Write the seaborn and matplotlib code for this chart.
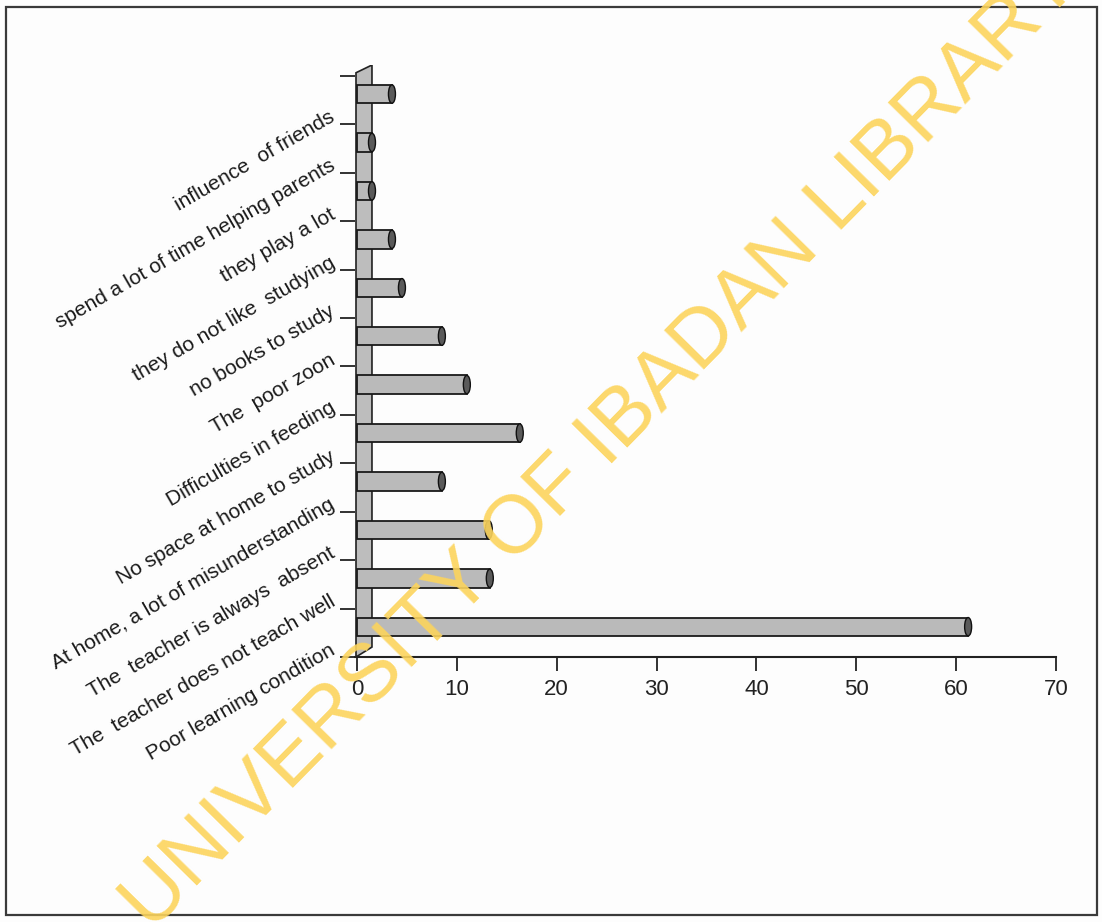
import numpy as np
import matplotlib
matplotlib.use("Agg")
import matplotlib.pyplot as plt
import seaborn as sns
from matplotlib import font_manager
from matplotlib.patches import Ellipse, Polygon, Rectangle

# reasons, top to bottom as in the chart
reasons = [
    "influence  of friends",
    "spend a lot of time helping parents",
    "they play a lot",
    "they do not like  studying",
    "no books to study",
    "The  poor zoon",
    "Difficulties in feeding",
    "No space at home to study",
    "At home, a lot of misunderstanding",
    "The  teacher is always  absent",
    "The  teacher does not teach well",
    "Poor learning condition",
]
percent = [3.5, 1.5, 1.5, 3.5, 4.5, 8.5, 11.0, 16.3, 8.5, 13.2, 13.3, 61.2]
xticks = [0, 10, 20, 30, 40, 50, 60, 70]

sns.set_style("white")
installed = {f.name for f in font_manager.fontManager.ttflist}
narrow = "Liberation Sans Narrow" if "Liberation Sans Narrow" in installed else "Liberation Sans"
plt.rcParams["font.family"] = ["Liberation Sans", "DejaVu Sans"]

W, H = 1102, 922
fig = plt.figure(figsize=(W / 100, H / 100), dpi=100)
fig.patch.set_facecolor("#fdfdfd")
ax = fig.add_axes([355 / W, 1 - 657 / H, 701 / W, 592 / H])
ax.set_facecolor("none")

bar_grey = "#bababa"
sns.barplot(x=percent, y=reasons, orient="h", color=bar_grey, saturation=1,
            edgecolor="#1a1a1a", linewidth=1.3, width=0.38, ax=ax, zorder=3)

# end caps to mimic the 3D cylinders
for p in list(ax.patches):
    xe = p.get_x() + p.get_width()
    yc = p.get_y() + p.get_height() / 2
    ax.add_patch(Ellipse((xe, yc), 0.7, p.get_height(), facecolor="#5a5a5a",
                         edgecolor="#111111", lw=1.0, zorder=4))

ax.set_xlim(-0.2, 70)
ax.set_ylim(11.625, -0.6)

# back wall
wall = Polygon([(-0.1, -0.44), (1.5, -0.6), (1.5, 11.42), (-0.1, 11.625)],
               closed=True, facecolor="#bdbdbd", edgecolor="#222222", lw=1.2, zorder=2)
ax.add_patch(wall)

ax.set_xticks(xticks)
ax.set_xticklabels([str(t) for t in xticks], fontfamily=narrow, fontsize=16, color="#222222")
ax.set_yticks(np.arange(13) - 0.375)
ax.set_yticklabels([""] + reasons, fontsize=15, color="#1a1a1a")
plt.setp(ax.get_yticklabels(), rotation=30, ha="right", va="bottom", rotation_mode="anchor")
ax.tick_params(axis="x", bottom=True, length=10, width=1.3, color="#222222", pad=6, direction="out")
ax.tick_params(axis="y", left=True, length=11, width=1.3, color="#222222", pad=1, direction="out")
ax.set_xlabel("")
ax.set_ylabel("")

for s in ["top", "right", "left"]:
    ax.spines[s].set_visible(False)
ax.spines["bottom"].set_color("#222222")
ax.spines["bottom"].set_linewidth(1.5)

# page frame
fig.add_artist(Rectangle((6 / W, 1 - 915 / H), 1091 / W, 908 / H, transform=fig.transFigure,
                         fill=False, edgecolor="#3a3a3a", lw=1.6))

# library watermark
fig.text(602 / W, 1 - 444 / H, "UNIVERSITY OF IBADAN LIBRARY", rotation=45.5,
         rotation_mode="anchor", ha="center", va="center", fontsize=59,
         color="#fcd45c", alpha=0.9, zorder=10)

fig.savefig("out.png", dpi=100, facecolor=fig.get_facecolor())
